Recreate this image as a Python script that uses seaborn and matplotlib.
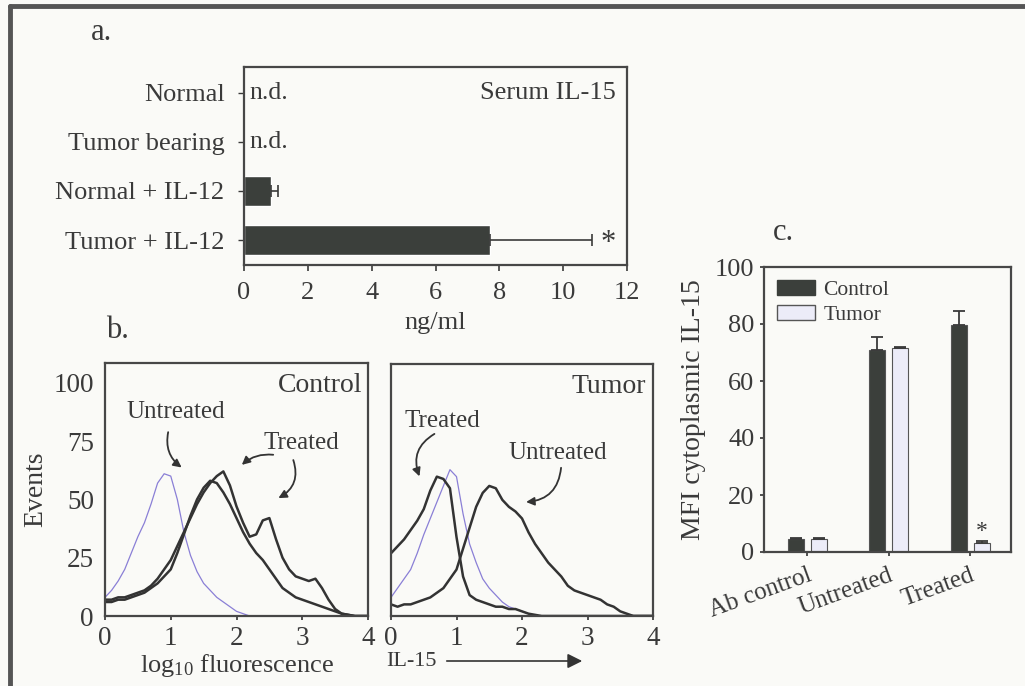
import numpy as np
import pandas as pd
import seaborn as sns
from matplotlib import pyplot as plt
from matplotlib.patches import Patch, FancyArrowPatch
from matplotlib.lines import Line2D

# ---- panel a: serum IL-15 (ng/ml) ----
serum_groups = ['Normal', 'Tumor bearing', 'Normal + IL-12', 'Tumor + IL-12']
serum_mean = [0.0, 0.0, 0.85, 7.7]
serum_err = [0.0, 0.0, 0.2, 3.2]

# ---- panel b: flow histograms, log10 fluorescence 0..4 step 0.1 ----
fl_x = [round(0.1 * i, 1) for i in range(41)]
ctrl_ab = [8, 11, 15, 20, 27, 34, 40, 48, 57, 61, 60, 50, 36, 26, 19, 14, 11, 8, 6, 4,
           2, 1, 0, 0, 0, 0, 0, 0, 0, 0, 0, 0, 0, 0, 0, 0, 0, 0, 0, 0, 0]
ctrl_untreated = [6, 6, 7, 7, 8, 9, 10, 12, 14, 17, 20, 27, 35, 43, 50, 55, 58, 57, 53, 48,
                  42, 36, 31, 27, 24, 20, 16, 12, 10, 8, 7, 6, 5, 4, 3, 2, 1, 0.5, 0, 0, 0]
ctrl_treated = [7, 7, 8, 8, 9, 10, 11, 13, 16, 20, 24, 30, 36, 42, 48, 53, 57, 60, 62, 56,
                47, 40, 34, 35, 41, 42, 33, 25, 20, 17, 16, 15, 16, 12, 7, 3, 1, 0.5, 0, 0, 0]
tum_ab = [8, 12, 16, 20, 27, 35, 42, 49, 56, 63, 60, 44, 31, 23, 16, 12, 9, 6, 4, 3,
          2, 1, 0, 0, 0, 0, 0, 0, 0, 0, 0, 0, 0, 0, 0, 0, 0, 0, 0, 0, 0]
tum_treated = [27, 30, 33, 37, 41, 46, 54, 60, 59, 55, 34, 17, 9, 7, 6, 5, 4, 4, 3, 3,
               2, 1, 0.5, 0, 0, 0, 0, 0, 0, 0, 0, 0, 0, 0, 0, 0, 0, 0, 0, 0, 0]
tum_untreated = [5, 4, 5, 5, 6, 7, 8, 10, 12, 16, 20, 29, 38, 47, 53, 56, 55, 50, 47, 45,
                 42, 36, 31, 27, 23, 20, 17, 13, 11, 10, 9, 8, 7, 5, 4, 2, 1, 0, 0, 0, 0]

# ---- panel c: MFI cytoplasmic IL-15 ----
mfi_groups = ['Ab control', 'Untreated', 'Treated']
mfi_control = [4.5, 71, 79.5]
mfi_control_err = [0.3, 4.5, 5.0]
mfi_tumor = [4.5, 71.5, 3.2]
mfi_tumor_err = [0.3, 0.5, 0.5]

dark = '#3b3f3b'
light = '#ececf8'
blue = '#8a7fd6'
bg = '#fafaf7'
ink = '#3a3a3a'

sns.set_theme(style='white')
plt.rcParams['font.family'] = ['Liberation Serif', 'DejaVu Serif']
plt.rcParams['mathtext.default'] = 'regular'
plt.rcParams['text.color'] = ink
plt.rcParams['axes.labelcolor'] = ink
plt.rcParams['xtick.color'] = ink
plt.rcParams['ytick.color'] = ink

fig = plt.figure(figsize=(10.25, 6.86), dpi=100, facecolor=bg)
W, H = 1025, 686


def box(x0, y0, x1, y1):
    # pixel box (top-left origin) -> figure fraction rect
    return [x0 / W, 1 - y1 / H, (x1 - x0) / W, (y1 - y0) / H]


def frame(ax):
    ax.set_facecolor(bg)
    for s in ax.spines.values():
        s.set_visible(True)
        s.set_color('#474747')
        s.set_linewidth(1.6)


# outer border (left and top)
fig.add_artist(Line2D([10 / W, 10 / W], [0, 1 - 6 / H], color='#555555', lw=3.5))
fig.add_artist(Line2D([10 / W, 1], [1 - 6 / H, 1 - 6 / H], color='#555555', lw=3.5))

# ================= panel a =================
ax_a = fig.add_axes(box(244, 67, 627, 265))
frame(ax_a)
sns.barplot(x=serum_mean, y=serum_groups, orient='h', color=dark, width=0.6,
            ax=ax_a, saturation=1)
ax_a.errorbar(serum_mean, range(len(serum_groups)),
              xerr=[np.zeros(4), serum_err], fmt='none', ecolor=ink,
              elinewidth=1.2, capsize=4, capthick=1.2)
ax_a.set_xlim(0, 12)
ax_a.set_ylim(3.51, -0.53)
ax_a.set_xticks(range(0, 13, 2))
ax_a.tick_params(axis='x', labelsize=19, length=4, width=1.2, direction='out', bottom=True, pad=8)
ax_a.tick_params(axis='y', labelsize=19, length=4, width=1, direction='out', left=True, pad=10)
ax_a.set_ylabel('')
ax_a.set_xlabel('ng/ml', fontsize=19, labelpad=6)
for i in range(2):
    ax_a.text(0.18, i, 'n.d.', fontsize=18.5, va='center', ha='left')
ax_a.text(11.65, 0, 'Serum IL-15', fontsize=19, va='center', ha='right')
ax_a.text(11.4, 3.08, '*', fontsize=22, va='center', ha='center')
fig.text(101 / W, 1 - 32 / H, 'a.', fontsize=22, va='center', ha='center')

# ================= panel b =================
ax_bl = fig.add_axes(box(105, 363, 368, 616))
ax_br = fig.add_axes(box(391, 364, 653, 616))
for ax in (ax_bl, ax_br):
    frame(ax)
    ax.set_xlim(0, 4)
    ax.set_ylim(0, 108.5)
    ax.set_xticks(range(5))
    ax.tick_params(axis='x', labelsize=19.5, length=3, direction='out', bottom=True, pad=4)

sns.lineplot(x=fl_x, y=ctrl_ab, ax=ax_bl, color=blue, lw=0.9)
sns.lineplot(x=fl_x, y=ctrl_untreated, ax=ax_bl, color='#333333', lw=1.8)
sns.lineplot(x=fl_x, y=ctrl_treated, ax=ax_bl, color='#333333', lw=1.8)
sns.lineplot(x=fl_x, y=tum_ab, ax=ax_br, color=blue, lw=0.9)
sns.lineplot(x=fl_x, y=tum_treated, ax=ax_br, color='#333333', lw=1.8)
sns.lineplot(x=fl_x, y=tum_untreated, ax=ax_br, color='#333333', lw=1.8)

ax_bl.set_yticks([0, 25, 50, 75, 100])
ax_bl.tick_params(axis='y', labelsize=19.5, length=0, pad=8)
ax_bl.set_ylabel('Events', fontsize=20, labelpad=4)
ax_bl.set_xlabel('log$_{10}$ fluorescence', fontsize=19, labelpad=1)
ax_br.set_yticks([])
ax_br.set_ylabel('')

arrow = dict(arrowstyle='-|>', color='#333333', lw=1.3, mutation_scale=12)
ax_bl.text(3.92, 99, 'Control', fontsize=20, ha='right', va='center')
ax_bl.text(1.08, 87.5, 'Untreated', fontsize=18, ha='center', va='center')
ax_bl.annotate('', xy=(1.2, 63), xytext=(0.97, 80),
               arrowprops=dict(arrow, connectionstyle='arc3,rad=0.35'))
ax_bl.text(2.98, 74, 'Treated', fontsize=18, ha='center', va='center')
ax_bl.annotate('', xy=(2.05, 64), xytext=(2.6, 69),
               arrowprops=dict(arrow, connectionstyle='arc3,rad=0.25'))
ax_bl.annotate('', xy=(2.6, 50), xytext=(2.85, 68),
               arrowprops=dict(arrow, connectionstyle='arc3,rad=-0.45'))

ax_br.text(3.9, 99, 'Tumor', fontsize=20, ha='right', va='center')
ax_br.text(0.78, 84, 'Treated', fontsize=18, ha='center', va='center')
ax_br.annotate('', xy=(0.45, 59), xytext=(0.7, 79),
               arrowprops=dict(arrow, connectionstyle='arc3,rad=0.45'))
ax_br.text(2.55, 70, 'Untreated', fontsize=18, ha='center', va='center')
ax_br.annotate('', xy=(2.02, 49), xytext=(2.6, 65),
               arrowprops=dict(arrow, connectionstyle='arc3,rad=-0.45'))

fig.text(386 / W, 1 - 661 / H, 'IL-15', fontsize=16, ha='left', va='center')
fig.add_artist(FancyArrowPatch(
    (444 / W, 1 - 661 / H), (585 / W, 1 - 661 / H), transform=fig.transFigure,
    arrowstyle='-|>', mutation_scale=22, color='#333333', lw=1.2))
fig.text(117 / W, 1 - 330 / H, 'b.', fontsize=22, va='center', ha='center')

# ================= panel c =================
ax_c = fig.add_axes(box(764, 267, 1011, 552))
frame(ax_c)
df_c = pd.DataFrame({
    'group': mfi_groups * 2,
    'cond': ['Control'] * 3 + ['Tumor'] * 3,
    'mfi': mfi_control + mfi_tumor,
})
sns.barplot(data=df_c, x='group', y='mfi', hue='cond', palette=[dark, light],
            width=0.56, gap=0.3, edgecolor='#555555', linewidth=0.8,
            saturation=1, legend=False, ax=ax_c)
bars = [p for p in ax_c.patches]
errs = mfi_control_err + mfi_tumor_err
for p, v, e in zip(bars, mfi_control + mfi_tumor, errs):
    ax_c.errorbar(p.get_x() + p.get_width() / 2, v, yerr=[[0], [e]], fmt='none',
                  ecolor=ink, elinewidth=1.3, capsize=4, capthick=1.3)
tp = bars[5]
ax_c.text(tp.get_x() + tp.get_width() / 2, 7.2, '*', fontsize=17, ha='center', va='center')
ax_c.set_ylim(0, 100)
ax_c.set_xlim(-0.53, 2.5)
ax_c.set_yticks(range(0, 101, 20))
ax_c.tick_params(axis='y', labelsize=19, length=3, direction='out', left=True, pad=4)
ax_c.tick_params(axis='x', labelsize=18, length=3, direction='out', bottom=True, pad=6)
for lab in ax_c.get_xticklabels():
    lab.set_rotation(20)
    lab.set_ha('right')
    lab.set_rotation_mode('anchor')
ax_c.set_xlabel('')
ax_c.set_ylabel('MFI cytoplasmic IL-15', fontsize=20, labelpad=6)
handles = [Patch(facecolor=dark, edgecolor=dark), Patch(facecolor=light, edgecolor='#555555')]
ax_c.legend(handles, ['Control', 'Tumor'], loc='upper left', frameon=False, fontsize=15.5,
            handlelength=1.75, handleheight=0.7, borderaxespad=0.4, borderpad=0.2,
            labelspacing=0.25, handletextpad=0.4)
fig.text(783 / W, 1 - 232 / H, 'c.', fontsize=22, va='center', ha='center')

fig.savefig('out.png', dpi=100, facecolor=bg)
